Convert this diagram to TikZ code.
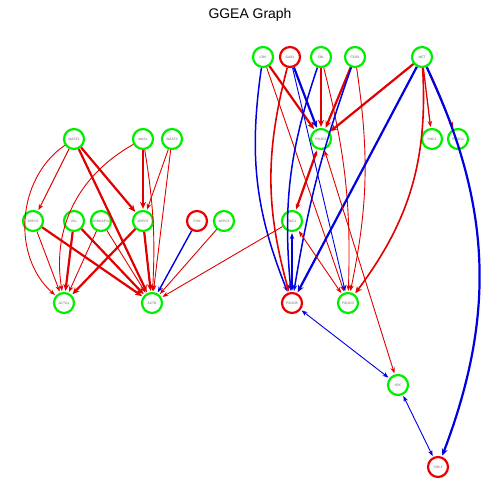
\documentclass[tikz,border=0pt]{standalone}
\usepackage{fontspec}
\setmainfont{Liberation Sans}
\usetikzlibrary{arrows.meta}
\definecolor{ngreen}{RGB}{0,238,0}
\definecolor{nred}{RGB}{238,0,0}
\definecolor{ered}{RGB}{225,0,0}
\definecolor{eblue}{RGB}{0,0,225}
\begin{document}
\begin{tikzpicture}[x=1bp,y=-1bp,
  gn/.style={circle,draw=ngreen,line width=2.2bp,fill=white,minimum size=20bp,inner sep=0pt,font=\fontsize{3.3}{3.8}\selectfont,text=black!60},
  rn/.style={gn,draw=nred},
  rt/.style={draw=ered,line width=0.9bp,-{Stealth[length=6bp,width=4.5bp]},shorten >=1bp},
  rT/.style={draw=ered,line width=2.2bp,-{Stealth[length=7bp,width=6bp]},shorten >=1bp},
  bt/.style={draw=eblue,line width=0.9bp,-{Stealth[length=6bp,width=4.5bp]},shorten >=1bp},
  bT/.style={draw=eblue,line width=2.2bp,-{Stealth[length=7bp,width=6bp]},shorten >=1bp},
  both/.style={{Stealth[length=6bp,width=4.5bp]}-{Stealth[length=6bp,width=4.5bp]},shorten <=1bp}
]
\useasboundingbox (0,0) rectangle (500,500);
\node[font=\fontsize{14}{16}\selectfont] (title) at (250,15) {GGEA Graph};
% nodes
\node[gn] (CRK) at (263,57) {CRK};
\node[rn] (GAB1) at (290,57) {GAB1};
\node[gn] (CBL) at (321,57) {CBL};
\node[gn] (ITGB1) at (355,57) {ITGB1};
\node[gn] (MET) at (422,57) {MET};
\node[gn] (PIK3R1) at (321,139) {PIK3R1};
\node[gn] (SHC1) at (432,139) {SHC1};
\node[gn] (PIK3CA) at (458,139) {PIK3CA};
\node[gn] (WASF1) at (74,139) {WASF1};
\node[gn] (WASL) at (143,139) {WASL};
\node[gn] (WASF2) at (172,139) {WASF2};
\node[gn] (ARPC2) at (33,221) {ARPC2};
\node[gn] (VCL) at (74,221) {VCL};
\node[gn] (ARHGAP10) at (101,221) {ARHGAP10};
\node[gn] (ARPC5) at (143,221) {ARPC5};
\node[rn] (PXN) at (197,221) {PXN};
\node[gn] (ARPC3) at (224,221) {ARPC3};
\node[gn] (RAC1) at (292,221) {RAC1};
\node[gn] (ACTG1) at (64,303) {ACTG1};
\node[gn] (ACTB) at (152,303) {ACTB};
\node[rn] (PIK3CB) at (292,303) {PIK3CB};
\node[gn] (PIK3CD) at (348,303) {PIK3CD};
\node[gn] (SRC) at (398,385) {SRC};
\node[rn] (SHC3) at (438,467) {SHC3};
% left cluster
\draw[rt] (WASF1) -- (ARPC2);
\draw[rt] (WASF1) to[bend right=52] (ACTG1);
\draw[rT] (WASF1) -- (ARPC5);
\draw[rT] (WASF1) -- (ACTB);
\draw[rt] (WASL) to[bend right=35] (ACTG1);
\draw[rT] (WASL) -- (ARPC5);
\draw[rt] (WASL) to[bend left=6] (ACTB);
\draw[rt] (WASF2) -- (ARPC5);
\draw[rt] (WASF2) -- (ACTB);
\draw[rt] (ARPC2) -- (ACTG1);
\draw[rT] (ARPC2) -- (ACTB);
\draw[rT] (VCL) -- (ACTG1);
\draw[rT] (VCL) -- (ACTB);
\draw[rt] (ARHGAP10) -- (ACTG1);
\draw[rt] (ARHGAP10) -- (ACTB);
\draw[rT] (ARPC5) -- (ACTG1);
\draw[rT] (ARPC5) -- (ACTB);
\draw[bt,line width=1.4bp] (PXN) -- (ACTB);
\draw[rt] (ARPC3) -- (ACTB);
\draw[rt] (RAC1) -- (ACTB);
% right cluster
\draw[bt,line width=1.5bp] (CRK) to[bend right=15] (PIK3CB);
\draw[rT] (CRK) -- (PIK3R1);
\draw[rt] (CRK) -- (PIK3CD);
\draw[rT,line width=1.6bp] (GAB1) to[bend right=15] (PIK3CB);
\draw[bT] (GAB1) -- (PIK3R1);
\draw[bt] (GAB1) -- (PIK3CD);
\draw[bt,line width=1.5bp] (CBL) to[bend right=12] (PIK3CB);
\draw[rT] (CBL) -- (PIK3R1);
\draw[rt] (CBL) to[bend left=8] (PIK3CD);
\draw[rT] (ITGB1) -- (PIK3R1);
\draw[bt,line width=1.5bp] (ITGB1) to[bend right=5] (PIK3CB);
\draw[rt] (ITGB1) to[bend left=10] (PIK3CD);
\draw[rT] (MET) -- (PIK3R1);
\draw[bT] (MET) -- (PIK3CB);
\draw[rT,line width=1.6bp] (MET) to[bend left=20] (PIK3CD);
\draw[rt,line width=1.3bp] (MET) -- (SHC1);
\draw[rt,line width=1.3bp] (MET) -- (PIK3CA);
\draw[bT] (MET) to[bend left=23] (SHC3);
\draw[rT,both] (RAC1) -- (PIK3R1);
\draw[rt,both] (PIK3R1) -- (SRC);
\draw[rt,both] (RAC1) -- (PIK3CD);
\draw[bT,both] (PIK3CB) -- (RAC1);
\draw[bt,both] (PIK3CB) -- (SRC);
\draw[bt,both] (SRC) -- (SHC3);
\end{tikzpicture}
\end{document}
